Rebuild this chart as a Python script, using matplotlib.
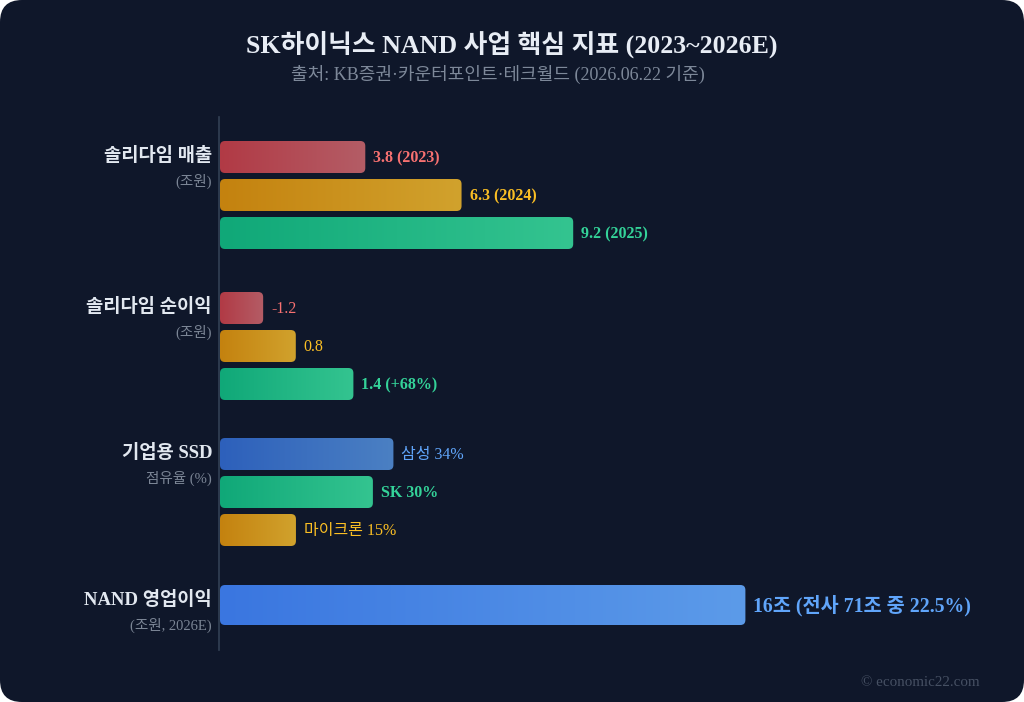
import matplotlib
matplotlib.use("Agg")
import matplotlib.pyplot as plt
import numpy as np
from matplotlib.patches import FancyBboxPatch
from matplotlib.colors import LinearSegmentedColormap

plt.rcParams['font.family'] = ['Liberation Serif', 'Noto Sans CJK KR', 'DejaVu Sans']

# ---- data ----
title = "SK하이닉스 NAND 사업 핵심 지표 (2023~2026E)"
subtitle = "출처: KB증권·카운터포인트·테크월드 (2026.06.22 기준)"

group_names = ["솔리다임 매출", "솔리다임 순이익", "기업용 SSD", "NAND 영업이익"]
group_units = ["(조원)", "(조원)", "점유율 (%)", "(조원, 2026E)"]

sales = [3.8, 6.3, 9.2]
sales_labels = ["3.8 (2023)", "6.3 (2024)", "9.2 (2025)"]
profit = [-1.2, 0.8, 1.4]
profit_labels = ["-1.2", "0.8", "1.4 (+68%)"]
ssd_share = [34, 30, 15]
ssd_labels = ["삼성 34%", "SK 30%", "마이크론 15%"]
nand_op = [16]
nand_labels = ["16조 (전사 71조 중 22.5%)"]

# ---- style ----
BG = "#0f172a"
pal = {
    "red": ("#b13a45", "#b45d66", "#f87171"),
    "amber": ("#c4820f", "#d1a22d", "#fbbf24"),
    "green": ("#10a878", "#34c490", "#34d399"),
    "blue": ("#2d60bb", "#4b80c3", "#60a5fa"),
    "blue2": ("#3a76e0", "#5c9be9", "#60a5fa"),
}

groups = [
    dict(vals=sales, labels=sales_labels, cols=["red", "amber", "green"],
         bold=[True, True, True], scale=38.5, top=141, h=32, fs=11.5),
    dict(vals=profit, labels=profit_labels, cols=["red", "amber", "green"],
         bold=[False, False, True], scale=96, top=292, h=32, fs=11.5),
    dict(vals=ssd_share, labels=ssd_labels, cols=["blue", "green", "amber"],
         bold=[False, True, False], scale=5.13, top=438, h=32, fs=11.5),
    dict(vals=nand_op, labels=nand_labels, cols=["blue2"],
         bold=[True], scale=32.9, top=585, h=40, fs=14.2),
]
neg_stub = 0.46  # drawn length for the negative bar (units of the group)

X0 = 219
STEP = 38

fig = plt.figure(figsize=(10.24, 7.02), dpi=100)
fig.patch.set_facecolor("white")
ax = fig.add_axes([0, 0, 1, 1])
ax.set_xlim(0, 1024)
ax.set_ylim(702, 0)
ax.axis("off")

ax.add_patch(FancyBboxPatch((0, 0), 1024, 702, boxstyle="round,pad=0,rounding_size=22",
                            fc=BG, ec="none", zorder=0))

ax.text(512, 44, title, ha="center", va="center", fontsize=18.6, fontweight="bold",
        color="#e8edf5")
ax.text(498, 74, subtitle, ha="center", va="center", fontsize=13, color="#7d8899")

ax.plot([X0, X0], [117, 650], color="#334155", lw=1.2, zorder=1)

for gi, g in enumerate(groups):
    ax.text(212, g["top"] + 15, group_names[gi], ha="right", va="center",
            fontsize=13.5, fontweight="bold", color="#e2e8f0")
    ax.text(212, g["top"] + 40, group_units[gi], ha="right", va="center",
            fontsize=10.5, color="#7b8595")
    for i, v in enumerate(g["vals"]):
        y = g["top"] + i * STEP
        length = (abs(v) if v >= 0 else neg_stub) * g["scale"]
        c0, c1, tc = pal[g["cols"][i]]
        patch = FancyBboxPatch((X0 + 1, y), length - 1, g["h"],
                               boxstyle="round,pad=0,rounding_size=5",
                               fc="none", ec="none", zorder=2)
        ax.add_patch(patch)
        cmap = LinearSegmentedColormap.from_list("g", [c0, c1])
        im = ax.imshow(np.linspace(0, 1, 256).reshape(1, -1), cmap=cmap, aspect="auto",
                       extent=(X0 + 1, X0 + length, y + g["h"], y), zorder=2,
                       interpolation="bilinear")
        im.set_clip_path(patch)
        ax.text(X0 + length + 8, y + g["h"] / 2 + 1, g["labels"][i], ha="left", va="center",
                fontsize=g["fs"], fontweight="bold" if g["bold"][i] else "normal", color=tc)

ax.set_xlim(0, 1024)
ax.set_ylim(702, 0)

ax.text(980, 683, "© economic22.com", ha="right", va="center", fontsize=10.8, color="#465063")

fig.savefig("out.png", dpi=100, facecolor="white")
